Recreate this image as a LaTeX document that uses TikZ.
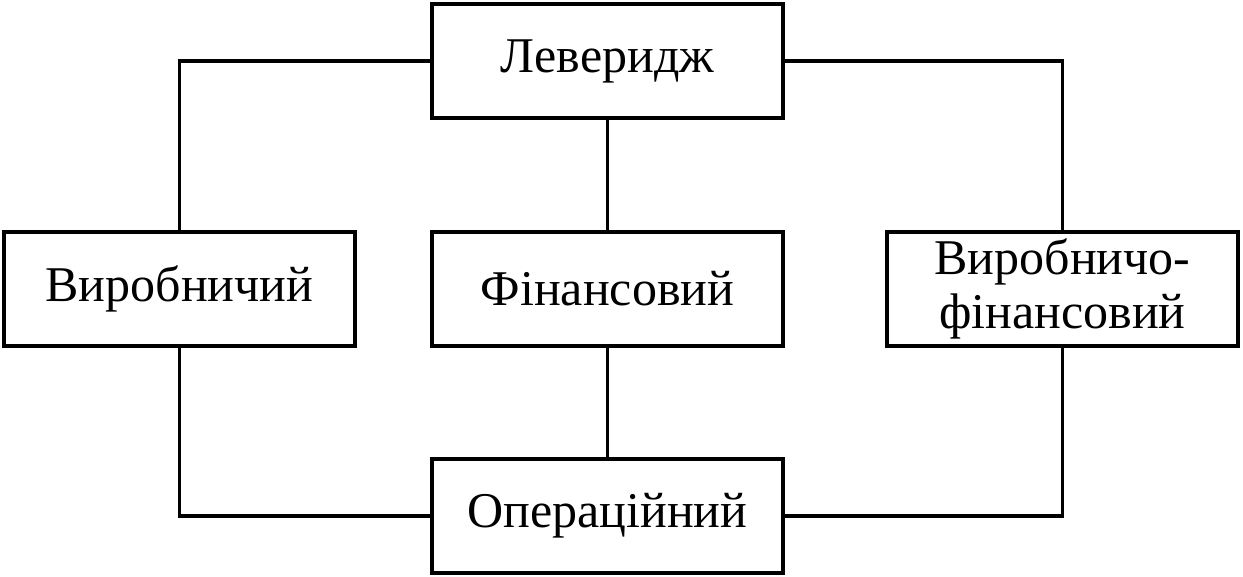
\documentclass[tikz,border=0pt]{standalone}
\usepackage{fontspec}
\setmainfont{Liberation Serif}
\begin{document}
\begin{tikzpicture}[x=1pt,y=1pt,
	box/.style={draw,line width=4pt,minimum width=351pt,minimum height=114pt,align=center,font=\fontsize{50}{54}\selectfont},
	link/.style={line width=3.5pt}]
	\useasboundingbox (0,0) rectangle (1243,-577);
	\node[box] (lev) at (607.5,-61) {Леверидж};
	\node[box] (vyr) at (179.5,-289) {Виробничий};
	\node[box] (fin) at (607.5,-289) {Фінансовий};
	\node[box] (vf) at (1062.5,-289) {Виробничо-\\фінансовий};
	\node[box] (op) at (607.5,-516) {Операційний};
	\draw[link] (lev.west) -| (vyr.north);
	\draw[link] (lev.east) -| (vf.north);
	\draw[link] (lev) -- (fin);
	\draw[link] (fin) -- (op);
	\draw[link] (vyr.south) |- (op.west);
	\draw[link] (vf.south) |- (op.east);
\end{tikzpicture}
\end{document}
